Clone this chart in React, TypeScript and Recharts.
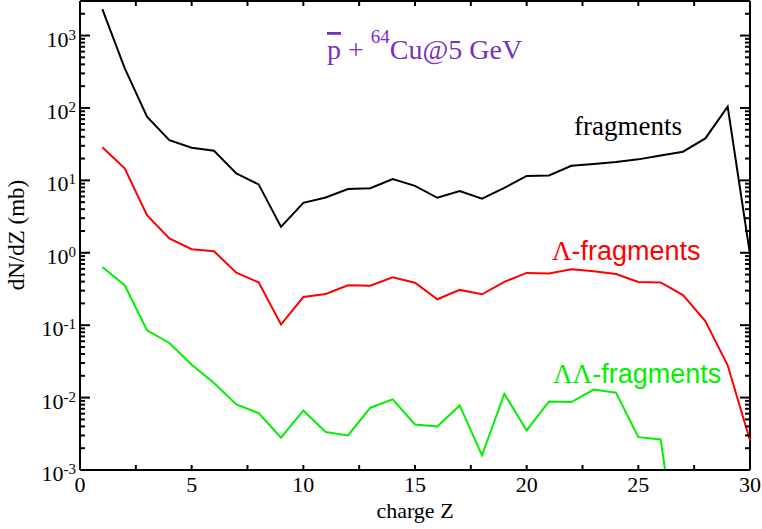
import React from 'react'
import { LineChart, Line, XAxis, YAxis, ReferenceLine } from 'recharts'

// charge Z of the fragment
const charge = [
  1, 2, 3, 4, 5, 6, 7, 8, 9, 10, 11, 12, 13, 14, 15,
  16, 17, 18, 19, 20, 21, 22, 23, 24, 25, 26, 27, 28, 29, 30,
]

// dN/dZ (mb)
const fragments = [
  2320, 354, 76, 36, 28.3, 25.7, 12.5, 8.8, 2.28, 4.9, 5.8, 7.6, 7.8, 10.4, 8.4,
  5.75, 7.1, 5.6, 7.9, 11.5, 11.7, 15.9, 16.8, 17.9, 19.5, 22.1, 24.9, 38, 104, 0.95,
]
const lambdaFragments = [
  28.6, 14.7, 3.3, 1.58, 1.12, 1.05, 0.53, 0.39, 0.102, 0.245, 0.27, 0.356, 0.35, 0.46, 0.385,
  0.228, 0.307, 0.267, 0.396, 0.527, 0.517, 0.593, 0.557, 0.51, 0.396, 0.389, 0.26, 0.114, 0.0279, 0.00256,
]
const doubleLambdaFragments = [
  0.638, 0.356, 0.085, 0.0568, 0.0285, 0.0159, 0.00805, 0.0061, 0.00279, 0.00665, 0.00334, 0.003, 0.00725, 0.00944, 0.00426,
  0.004, 0.0078, 0.00159, 0.0113, 0.00352, 0.00885, 0.00867, 0.0129, 0.0117, 0.00284, 0.00264, 0.00002, null, null, null,
]

const xTicks = [0, 2.5, 5, 7.5, 10, 12.5, 15, 17.5, 20, 22.5, 25, 27.5, 30]
const decades = [-3, -2, -1, 0, 1, 2, 3]

const yTicks: number[] = []
decades.forEach((e) => {
  for (let m = 1; m <= 9; m++) {
    const v = m * Math.pow(10, e)
    if (v <= 3000) yTicks.push(v)
  }
})

const W = 762
const H = 529
const LEFT = 80
const RIGHT = 750
const TOP = 1
const BOTTOM = 470
const SERIF = '"Liberation Serif", "Times New Roman", serif'
const SANS = '"Liberation Sans", Arial, sans-serif'
const GREEN = '#00f000'
const PURPLE = '#7431c4'

const rows = charge.map((z, i) => ({
  z,
  frag: fragments[i],
  lam: lambdaFragments[i],
  lamlam: doubleLambdaFragments[i],
}))

function XTick(props: any) {
  const { x, payload } = props
  const v = payload.value
  const showLabel = v % 5 === 0
  return (
    <g>
      <line x1={x} x2={x} y1={BOTTOM} y2={BOTTOM - 5} stroke="#000" strokeWidth={2} />
      <line x1={x} x2={x} y1={TOP} y2={TOP + 5} stroke="#000" strokeWidth={2} />
      {showLabel && (
        <text x={x} y={BOTTOM + 22} textAnchor="middle" fontFamily={SERIF} fontSize={22} fill="#000">
          {v}
        </text>
      )}
    </g>
  )
}

function YTick(props: any) {
  const { y, payload } = props
  const v = payload.value
  const lg = Math.log10(v)
  const exp = Math.round(lg)
  const major = Math.abs(lg - exp) < 1e-6
  const len = major ? 10 : 5
  return (
    <g>
      <line x1={LEFT} x2={LEFT + len} y1={y} y2={y} stroke="#000" strokeWidth={2} />
      <line x1={RIGHT} x2={RIGHT - len} y1={y} y2={y} stroke="#000" strokeWidth={2} />
      {major && (
        <text x={76} y={y + 11} textAnchor="end" fontFamily={SERIF} fontSize={22} fill="#000">
          <tspan>10</tspan>
          <tspan dy={-7} fontSize={15}>{String(exp)}</tspan>
        </text>
      )}
    </g>
  )
}

export default function App() {
  return (
    <div style={{ position: 'absolute', left: 0, top: 0, width: W, height: H, background: '#fff' }}>
      <LineChart width={W} height={H} data={rows} margin={{ top: TOP, right: W - RIGHT, bottom: 0, left: 0 }}>
        <XAxis
          dataKey="z"
          type="number"
          domain={[0, 30]}
          ticks={xTicks}
          interval={0}
          tickLine={false}
          tick={<XTick />}
          height={H - BOTTOM}
          axisLine={{ stroke: '#000', strokeWidth: 2 }}
        />
        <YAxis
          scale="log"
          type="number"
          domain={[0.001, 3000]}
          allowDataOverflow
          ticks={yTicks}
          interval={0}
          tickLine={false}
          tick={<YTick />}
          width={LEFT}
          axisLine={{ stroke: '#000', strokeWidth: 2 }}
        />
        <ReferenceLine y={3000} stroke="#000" strokeWidth={2} />
        <ReferenceLine x={30} stroke="#000" strokeWidth={2} />
        <Line dataKey="frag" stroke="#000" strokeWidth={2} dot={false} isAnimationActive={false} />
        <Line dataKey="lam" stroke="#ff0000" strokeWidth={2} dot={false} isAnimationActive={false} />
        <Line dataKey="lamlam" stroke={GREEN} strokeWidth={2} dot={false} isAnimationActive={false} />
      </LineChart>
      <svg
        width={W}
        height={H}
        style={{ position: 'absolute', left: 0, top: 0, pointerEvents: 'none' }}
      >
        <text x={327} y={59} fontFamily={SERIF} fontSize={28} fill={PURPLE}>
          <tspan textDecoration="overline">p</tspan>
          <tspan> + </tspan>
          <tspan dy={-16} fontSize={19}>64</tspan>
          <tspan dy={16}>Cu@5 GeV</tspan>
        </text>
        <text x={574} y={135} fontFamily={SERIF} fontSize={27} fill="#000">
          fragments
        </text>
        <text x={552} y={260} fontFamily={SANS} fontSize={27} fill="#ff0000">
          <tspan fontFamily={SERIF}>Λ</tspan>-fragments
        </text>
        <text x={553} y={383} fontFamily={SANS} fontSize={27} fill={GREEN}>
          <tspan fontFamily={SERIF}>ΛΛ</tspan>-fragments
        </text>
        <text x={415} y={518} textAnchor="middle" fontFamily={SERIF} fontSize={22} fill="#000">
          charge Z
        </text>
        <text
          transform="translate(24,235) rotate(-90)"
          textAnchor="middle"
          fontFamily={SERIF}
          fontSize={23}
          fill="#000"
        >
          dN/dZ (mb)
        </text>
      </svg>
    </div>
  )
}
